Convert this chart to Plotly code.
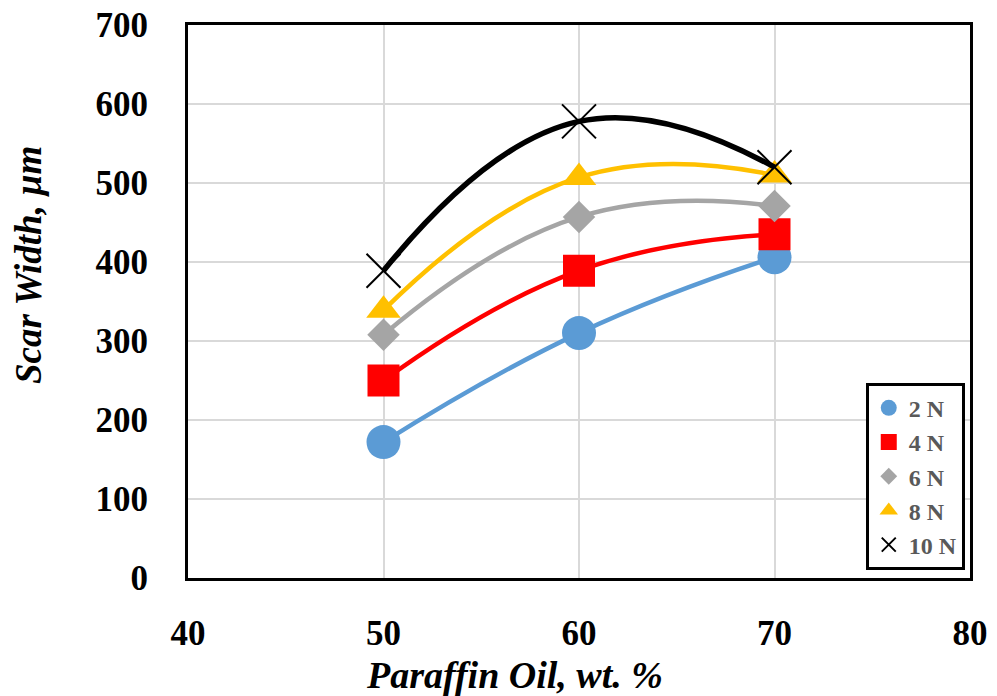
import plotly.graph_objects as go

paraffin = [50, 60, 70]
w2 = [172, 310, 406]
w4 = [250, 389, 435]
w6 = [308, 457, 471]
w8 = [339, 507, 510]
w10 = [389, 578, 520]

x_title = "Paraffin Oil, wt. %"
y_title = "Scar Width, µm"

# name, values, color, symbol, plot marker size, legend marker size, line width
series = [
    ("2 N", w2, "#5b9bd5", "circle", 34, 17, 4.5),
    ("4 N", w4, "#ff0000", "square", 32, 16, 4.5),
    ("6 N", w6, "#a5a5a5", "diamond", 25, 13, 4.5),
    ("8 N", w8, "#ffc000", "triangle-up", 30, 16, 4.5),
    ("10 N", w10, "#000000", "x-thin-open", 34, 14, 5.5),
]

fig = go.Figure()
for name, ys, col, sym, sz, lsz, lw in series:
    marker = dict(symbol=sym, size=sz, color=col)
    if sym == "x-thin-open":
        marker["line"] = dict(color=col, width=2)
    fig.add_trace(go.Scatter(
        x=paraffin, y=ys, name=name, mode="lines+markers",
        line=dict(color=col, width=lw, shape="spline", smoothing=1.3),
        marker=marker, showlegend=False,
    ))
# legend entries: markers only
for name, ys, col, sym, sz, lsz, lw in series:
    marker = dict(symbol=sym, size=lsz, color=col)
    if sym == "x-thin-open":
        marker["line"] = dict(color=col, width=2)
    fig.add_trace(go.Scatter(
        x=[None], y=[None], name=name, mode="markers",
        marker=marker, showlegend=True,
    ))

font_family = "Liberation Serif"
fig.update_layout(
    width=997, height=696,
    margin=dict(l=180, r=35, t=17, b=126),
    paper_bgcolor="white", plot_bgcolor="white",
    font=dict(family=font_family, color="black"),
    showlegend=True,
    legend=dict(
        x=0.93, xanchor="center", y=0.015, yanchor="bottom",
        bordercolor="black", borderwidth=3, bgcolor="white",
        font=dict(family=font_family, size=24, color="#595959", weight="bold"),
        itemsizing="trace", tracegroupgap=0, itemwidth=30,
    ),
    xaxis=dict(
        range=[40, 80], dtick=10, tick0=40,
        showgrid=True, gridcolor="#d9d9d9", gridwidth=2,
        showline=True, linecolor="black", linewidth=3, mirror=True,
        ticks="", zeroline=False, ticklabelstandoff=22,
        ticklabeloverflow="allow", automargin=False,
        tickfont=dict(family=font_family, size=35, weight="bold"),
    ),
    yaxis=dict(
        range=[0, 700], dtick=100,
        showgrid=True, gridcolor="#d9d9d9", gridwidth=2,
        showline=True, linecolor="black", linewidth=3, mirror=True,
        ticks="", zeroline=False, ticklabelstandoff=30,
        ticklabeloverflow="allow", automargin=False,
        tickfont=dict(family=font_family, size=35, weight="bold"),
    ),
    annotations=[
        dict(text="<b><i>" + x_title + "</i></b>", xref="paper", yref="paper",
             x=0.418, y=0, xanchor="center", yanchor="middle", yshift=-97,
             showarrow=False, font=dict(family=font_family, size=38)),
        dict(text="<b><i>" + y_title + "</i></b>", xref="paper", yref="paper",
             x=0, y=0.566, xanchor="center", yanchor="middle", xshift=-160,
             textangle=-90, showarrow=False,
             font=dict(family=font_family, size=37)),
    ],
)

fig.write_html("out.html")
